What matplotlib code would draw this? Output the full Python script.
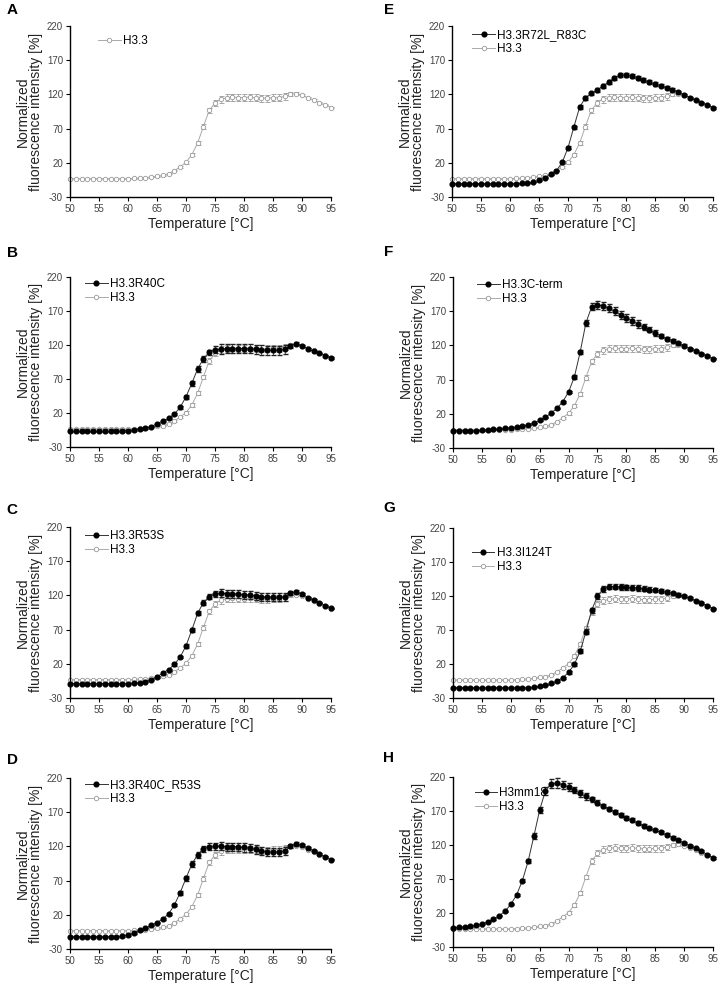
import matplotlib
matplotlib.use("Agg")
import matplotlib.pyplot as plt
from matplotlib.lines import Line2D

plt.rcParams["font.family"] = ["Liberation Sans", "DejaVu Sans"]
plt.rcParams["axes.unicode_minus"] = False

temps = list(range(50, 96))

# wild-type control, shared by all panels
h33 = [-3.3] * 11 + [-2.8, -2.3, -1.8, -0.8, 0.2, 1.6, 4.0, 8.4, 14.3, 20.6, 31.8, 48.8,
       73.0, 96.5, 107.6, 113.0, 115.0, 116.0, 115.4, 115.4, 116.0, 115.0, 114.5, 114.5,
       115.0, 115.4, 117.0, 120.0, 121.0, 119.0, 115.0, 112.0, 107.6, 105.0, 100.8]
h33_err = [0.5] * 17 + [0.8, 1, 1.5, 2, 2.5, 3, 3.5, 4, 4.5] + [5] * 12 + [3, 2, 1.5] + [1] * 5

r40c = [-7.0] * 9 + [-6.5, -6.0, -5.0, -3.5, -2.0, 0.0, 4.3, 8.2, 12.2, 18.5, 28.3, 44.0,
        63.6, 84.7, 99.9, 109.2, 113.1, 114.1, 114.6, 114.6, 114.6, 114.6, 114.6, 113.6,
        112.6, 112.2, 112.2, 112.2, 113.6, 118.5, 122.0, 119.0, 114.0, 110.7, 107.7, 104.3, 100.9]
r40c_err = [0.8] * 15 + [1, 1, 1.5, 1.5, 2, 3, 3.5, 4, 4.5, 4, 5] + [7] * 12 + [3, 2, 1.5] + [1] * 5

r53s = [-9.0] * 11 + [-8.0, -7.5, -6.0, -3.0, 0.8, 6.7, 11.6, 19.0, 30.0, 46.3, 69.3, 93.8,
        109.4, 118.2, 122.0, 123.0, 122.6, 122.6, 122.0, 121.0, 120.7, 119.2, 118.2, 117.3,
        117.3, 117.3, 118.2, 123.0, 125.6, 122.0, 116.8, 113.3, 109.4, 105.0, 101.0]
r53s_err = [0.8] * 15 + [1, 1, 1.5, 1.5, 2, 2.5, 3, 3, 3.5, 4, 5] + [6] * 12 + [3, 2, 1.5] + [1] * 5

r40c_r53s = [-12.0] * 9 + [-11.0, -9.5, -6.6, -2.7, 0.8, 4.7, 8.6, 14.0, 21.3, 34.5, 52.5,
             73.5, 94.0, 107.7, 116.5, 119.4, 120.4, 120.4, 119.4, 119.4, 119.0, 118.4, 117.5,
             115.5, 113.6, 112.0, 112.0, 112.0, 113.6, 120.0, 123.8, 121.4, 117.5, 113.6,
             109.0, 104.8, 100.4]
r40c_r53s_err = [0.8] * 15 + [1, 1, 1.5, 2, 3, 3.5, 4, 4, 4.5, 5, 5] + [6] * 12 + [3, 2, 1.5] + [1] * 5

r72l_r83c = [-10.5] * 12 + [-10.0, -9.6, -8.0, -5.7, -1.8, 3.0, 8.4, 20.6, 42.0, 72.0, 101.3,
             115.0, 121.5, 126.4, 132.0, 138.0, 144.0, 148.0, 148.5, 147.5, 144.6, 141.2,
             138.0, 135.4, 132.7, 130.0, 127.0, 124.2, 119.8, 115.4, 111.5, 108.0, 104.2, 100.3]
r72l_r83c_err = [0.6] * 18 + [1, 1.5, 2, 2.5, 2.5, 2.5, 2.5] + [3] * 10 + [2.5, 2, 2, 2, 1.5, 1.5] + [1] * 5

cterm = [-4.7] * 5 + [-4.2, -3.7, -2.7, -1.7, -1.2, -0.3, 0.7, 2.2, 4.1, 6.5, 10.4, 14.8,
         21.2, 28.0, 37.7, 51.9, 73.8, 109.9, 152.7, 176.6, 179.6, 177.6, 174.2, 169.8,
         164.9, 160.5, 156.2, 150.8, 146.9, 143.0, 138.1, 133.7, 129.8, 126.9, 123.0, 119.6,
         115.2, 111.3, 107.9, 104.5, 100.6]
cterm_err = [0.6] * 18 + [1, 1.5, 2, 2.5, 3, 4, 5] + [6] * 8 + [5, 4, 4, 3, 3, 2.5, 2, 2] + [1] * 5

i124t = [-14.8] * 14 + [-13.9, -12.4, -10.9, -8.5, -5.0, -0.2, 7.7, 19.4, 38.5, 67.4, 99.2,
         119.7, 130.5, 133.9, 133.9, 133.4, 132.9, 132.4, 131.9, 131.0, 129.5, 128.5, 127.0,
         125.6, 124.1, 122.2, 119.7, 116.8, 113.3, 109.9, 106.0, 101.6]
i124t_err = [0.6] * 18 + [1, 1.5, 2, 2.5, 3, 3.5, 3.5] + [4] * 10 + [3, 3, 2.5, 2, 2, 1.5] + [1] * 5

h3mm18 = [-2.0, -1.1, -0.6, 0.4, 1.9, 4.3, 7.3, 11.2, 16.1, 22.5, 32.7, 46.5, 67.5, 96.0,
          133.2, 171.5, 199.9, 210.2, 211.2, 208.7, 205.3, 200.9, 196.0, 191.6, 187.2, 182.3,
          177.9, 173.4, 169.0, 164.6, 160.2, 156.3, 152.4, 148.4, 144.5, 142.0, 138.5, 135.0,
          131.0, 127.0, 123.0, 119.0, 115.0, 111.0, 106.0, 101.0]
h3mm18_err = [0.8] * 10 + [1, 1.5, 2, 3, 4, 5, 6, 7, 7, 6, 6, 5, 5, 5, 4, 4] + [3] * 8 + [2] * 7 + [1] * 5

panels = [
    ("A", None, None, None),
    ("B", "H3.3R40C", r40c, r40c_err),
    ("C", "H3.3R53S", r53s, r53s_err),
    ("D", "H3.3R40C_R53S", r40c_r53s, r40c_r53s_err),
    ("E", "H3.3R72L_R83C", r72l_r83c, r72l_r83c_err),
    ("F", "H3.3C-term", cterm, cterm_err),
    ("G", "H3.3I124T", i124t, i124t_err),
    ("H", "H3mm18", h3mm18, h3mm18_err),
]

# axes boxes in pixels: left, right, top, bottom
W, H = 720, 983
boxes = [
    (70, 331, 26, 197), (70, 331, 277, 447), (70, 331, 527, 698), (70, 331, 778, 949),
    (452, 713, 26, 197), (453, 713, 277, 448), (453, 713, 528, 698), (453, 713, 777, 947),
]
letter_pos = [(12, 10), (12, 253), (12, 510), (12, 760),
              (389, 10), (389, 252), (389, 508), (389, 758)]
legend_anchor = [(0.09, 0.973), (0.04, 1.02), (0.04, 1.01), (0.04, 1.02),
                 (0.06, 1.01), (0.075, 1.015), (0.055, 0.915), (0.065, 0.967)]

wt_style = dict(color="#aaaaaa", lw=0.7, marker="o", ms=3.2, mfc="white",
                mec="#999999", mew=0.6)
mut_style = dict(color="#333333", lw=0.7, marker="o", ms=3.4, mfc="black", mec="black")

fig = plt.figure(figsize=(W / 100, H / 100), dpi=100)

for i, (letter, name, vals, errs) in enumerate(panels):
    l, r, t, b = boxes[i]
    ax = fig.add_axes([l / W, 1 - b / H, (r - l) / W, (b - t) / H])

    ax.errorbar(temps, h33, yerr=h33_err, elinewidth=0.5, capsize=1.8,
                ecolor="#999999", clip_on=False, zorder=2, **wt_style)
    handles = [Line2D([], [], **wt_style)]
    labels = ["H3.3"]
    if vals is not None:
        ax.errorbar(temps, vals, yerr=errs, elinewidth=0.5, capsize=1.8,
                    ecolor="#222222", clip_on=False, zorder=3, **mut_style)
        handles.insert(0, Line2D([], [], **mut_style))
        labels.insert(0, name)

    ax.set_xlim(50, 95)
    ax.set_ylim(-30, 220)
    ax.set_xticks(range(50, 96, 5))
    ax.set_yticks([-30, 20, 70, 120, 170, 220])
    ax.spines["top"].set_visible(False)
    ax.spines["right"].set_visible(False)
    ax.spines["left"].set_linewidth(1.0)
    ax.spines["bottom"].set_linewidth(1.0)
    ax.tick_params(labelsize=7, labelcolor="#444444", length=3, width=0.8, pad=2)
    ax.set_xlabel("Temperature [°C]", fontsize=10, color="#222222", labelpad=2)
    ax.set_ylabel("Normalized\nfluorescence intensity [%]", fontsize=10, color="#222222",
                  labelpad=3, linespacing=0.9)

    ax.legend(handles, labels, loc="upper left",
              bbox_to_anchor=legend_anchor[i], frameon=False, fontsize=8.5,
              handlelength=1.9, handletextpad=0.2, labelspacing=0.15, borderaxespad=0)

    lx, ly = letter_pos[i]
    fig.text(lx / W, 1 - ly / H, letter, fontsize=11, fontweight="bold",
             ha="center", va="center")

fig.savefig("out.png", dpi=100)
